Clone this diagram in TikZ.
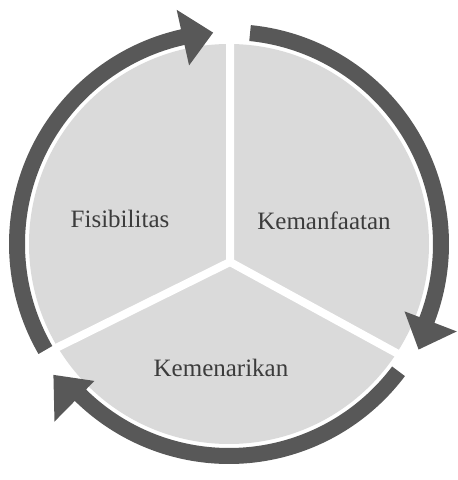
\documentclass[tikz,border=0pt]{standalone}
\usepackage{fontspec}
\setmainfont{Liberation Serif}
\definecolor{piefill}{HTML}{DADADA}
\definecolor{arrowgray}{HTML}{585858}
\definecolor{txtgray}{HTML}{3C3C3C}
\begin{document}
\begin{tikzpicture}[x=1pt,y=1pt,
  wedgegap/.style={draw=white, line width=8pt, line cap=round},
  cyclearrow/.style={fill=arrowgray, draw=none},
  seglabel/.style={text=txtgray, font=\fontsize{25}{30}\selectfont, anchor=base, inner sep=0pt}]
\useasboundingbox (0,0) rectangle (458,480);
\coordinate (C) at (229,236);
\coordinate (J) at (230,218);
% pie
\fill[piefill] (C) circle[radius=200];
\begin{scope}[shift={(C)}]
  \coordinate (g1) at (89.7:203);
  \coordinate (g2) at (211:203);
  \coordinate (g3) at (-33:203);
\end{scope}
\draw[wedgegap] (J) -- (g1);
\draw[wedgegap] (J) -- (g2);
\draw[wedgegap] (J) -- (g3);
% cycle arrows
\begin{scope}[shift={(C)}]
  \fill[cyclearrow] (210:204) arc[start angle=210,end angle=102.6,radius=204]
    -- (102.6:183) -- (94.3:212) -- (102.6:240) -- (102.6:220)
    arc[start angle=102.6,end angle=210,radius=220] -- cycle;
  \fill[cyclearrow] (84.3:204) arc[start angle=84.3,end angle=-21,radius=204]
    -- (-21:188) -- (-29.1:217) -- (-21:244) -- (-21:220)
    arc[start angle=-21,end angle=84.3,radius=220] -- cycle;
  \fill[cyclearrow] (-36.9:204) arc[start angle=-36.9,end angle=-134.5,radius=204]
    -- (-134.5:192) -- (-143.3:219) -- (-134.5:249) -- (-134.5:220)
    arc[start angle=-134.5,end angle=-36.9,radius=220] -- cycle;
\end{scope}
% labels
\node[seglabel] (fis) at (120,252) {Fisibilitas};
\node[seglabel] (kem) at (324,250) {Kemanfaatan};
\node[seglabel] (men) at (221,103) {Kemenarikan};
\end{tikzpicture}
\end{document}
